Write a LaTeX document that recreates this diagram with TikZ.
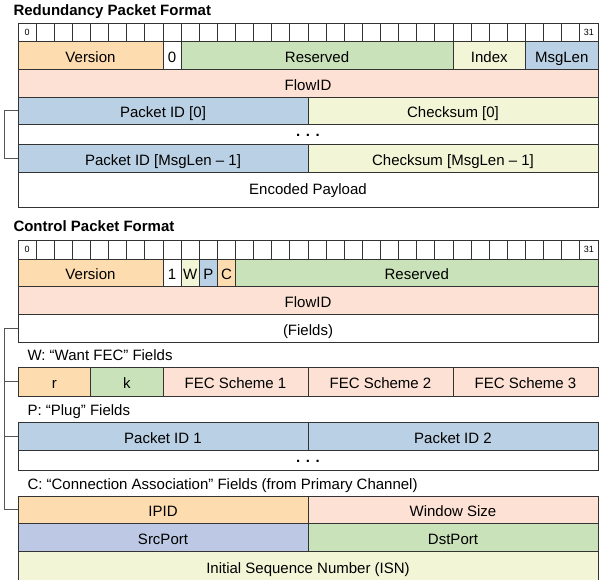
\documentclass[tikz,border=0pt]{standalone}
\usepackage{fontspec}
\setmainfont{Liberation Sans}
\definecolor{cOrange}{RGB}{253,220,176}
\definecolor{cGreen}{RGB}{201,226,185}
\definecolor{cYellow}{RGB}{243,246,214}
\definecolor{cBlue}{RGB}{186,208,228}
\definecolor{cPink}{RGB}{252,225,212}
\definecolor{cPeri}{RGB}{188,200,228}
\definecolor{cLine}{RGB}{51,51,51}
\definecolor{cBrace}{RGB}{85,85,85}
\tikzset{
  fieldbox/.style={draw=cLine, line width=0.8pt, inner sep=0pt, outer sep=0pt,
    font=\fontsize{15}{18}\selectfont, text height=14pt, text depth=0pt},
  bitbox/.style={fieldbox, fill=white, font=\fontsize{9}{10}\selectfont,
    text height=9pt, text depth=0pt},
  dotsrow/.style={text height=3.4pt, text depth=0pt, font=\fontsize{15}{18}\selectfont\bfseries},
  heading/.style={inner sep=0pt, anchor=base west, font=\fontsize{15}{18}\selectfont\bfseries},
  sublabel/.style={inner sep=0pt, anchor=base west, font=\fontsize{15}{18}\selectfont},
  brace/.style={draw=cBrace, line width=0.8pt},
}
% \pfield[extra options]{name}{first col}{end col}{top}{bottom}{fill}{text}
\newcommand\pfield[8][]{%
  \pgfmathsetmacro\pfxa{18+18.125*(#3)}%
  \pgfmathsetmacro\pfxb{18+18.125*(#4)}%
  \pgfmathsetmacro\pfw{\pfxb-\pfxa}%
  \pgfmathsetmacro\pfh{(#6)-(#5)}%
  \node[fieldbox, fill=#7, minimum width=\pfw pt, minimum height=\pfh pt,
        anchor=north west, #1] (#2) at (\pfxa,#5) {#8};}
\begin{document}
\begin{tikzpicture}[x=1pt, y=-1pt]
\useasboundingbox (0,0) rectangle (600,579);

% ---------------- Redundancy packet ----------------
\node[heading] (rtitle) at (13.3,15.7) {Redundancy Packet Format};
\foreach \i in {0,...,31} {
  \pgfmathtruncatemacro\ip{\i+1}
  \pfield[bitbox]{rb\i}{\i}{\ip}{23.3}{41.7}{white}{}
}
\node[font=\fontsize{9}{10}\selectfont, inner sep=0pt] (rb0n) at (rb0) {0};
\node[font=\fontsize{9}{10}\selectfont, inner sep=0pt] (rb31n) at (rb31) {31};

\pfield{rver}{0}{8}{41.7}{69.3}{cOrange}{Version}
\pfield{rzero}{8}{9}{41.7}{69.3}{white}{0}
\pfield{rres}{9}{24}{41.7}{69.3}{cGreen}{Reserved}
\pfield{ridx}{24}{28}{41.7}{69.3}{cYellow}{Index}
\pfield{rlen}{28}{32}{41.7}{69.3}{cBlue}{MsgLen}
\pfield{rflow}{0}{32}{69.3}{97}{cPink}{FlowID}
\pfield{pidA}{0}{16}{97}{124.3}{cBlue}{Packet ID [0]}
\pfield{csA}{16}{32}{97}{124.3}{cYellow}{Checksum [0]}
\pfield[dotsrow]{rdots}{0}{32}{124.3}{144.3}{white}{. . .}
\pfield{pidB}{0}{16}{144.3}{172.3}{cBlue}{Packet ID [MsgLen -- 1]}
\pfield{csB}{16}{32}{144.3}{172.3}{cYellow}{Checksum [MsgLen -- 1]}
\pfield[text height=9pt]{payload}{0}{32}{172.3}{207.3}{white}{Encoded Payload}

\draw[brace] (pidA.west) -- ++(-13.7,0) |- (pidB.west);

% ---------------- Control packet ----------------
\node[heading] (ctitle) at (13.3,231) {Control Packet Format};
\foreach \i in {0,...,31} {
  \pgfmathtruncatemacro\ip{\i+1}
  \pfield[bitbox]{cb\i}{\i}{\ip}{240.7}{259}{white}{}
}
\node[font=\fontsize{9}{10}\selectfont, inner sep=0pt] (cb0n) at (cb0) {0};
\node[font=\fontsize{9}{10}\selectfont, inner sep=0pt] (cb31n) at (cb31) {31};

\pfield{cver}{0}{8}{259}{286}{cOrange}{Version}
\pfield{cone}{8}{9}{259}{286}{white}{1}
\pfield{cw}{9}{10}{259}{286}{cYellow}{W}
\pfield{cp}{10}{11}{259}{286}{cBlue}{P}
\pfield{cc}{11}{12}{259}{286}{cOrange}{C}
\pfield{cres}{12}{32}{259}{286}{cGreen}{Reserved}
\pfield{cflow}{0}{32}{286}{314}{cPink}{FlowID}
\pfield{fields}{0}{32}{314}{342.3}{white}{(Fields)}

\node[sublabel] (wlabel) at (27.3,360.7) {W: “Want FEC” Fields};
\pfield{fr}{0}{4}{367.3}{396}{cOrange}{r}
\pfield{fk}{4}{8}{367.3}{396}{cGreen}{k}
\pfield{fs1}{8}{16}{367.3}{396}{cPink}{FEC Scheme 1}
\pfield{fs2}{16}{24}{367.3}{396}{cPink}{FEC Scheme 2}
\pfield{fs3}{24}{32}{367.3}{396}{cPink}{FEC Scheme 3}

\node[sublabel] (plabel) at (27.3,415) {P: “Plug” Fields};
\pfield{pid1}{0}{16}{422.7}{450.7}{cBlue}{Packet ID 1}
\pfield{pid2}{16}{32}{422.7}{450.7}{cBlue}{Packet ID 2}
\pfield[dotsrow]{cdots}{0}{32}{450.7}{470}{white}{. . .}

\node[sublabel] (clabel) at (27.3,489.3) {C: “Connection Association” Fields (from Primary Channel)};
\pfield{ipid}{0}{16}{496}{523.3}{cOrange}{IPID}
\pfield{wsize}{16}{32}{496}{523.3}{cPink}{Window Size}
\pfield{sport}{0}{16}{523.3}{551.7}{cPeri}{SrcPort}
\pfield{dport}{16}{32}{523.3}{551.7}{cGreen}{DstPort}
\pfield{isn}{0}{32}{551.7}{580.5}{cYellow}{Initial Sequence Number (ISN)}

\draw[brace] (fields.west) -- ++(-13.7,0) |- (ipid.west);
\draw[brace] (fr.west) -- ++(-13.7,0);
\draw[brace] (pid1.west) -- ++(-13.7,0);
\end{tikzpicture}
\end{document}
